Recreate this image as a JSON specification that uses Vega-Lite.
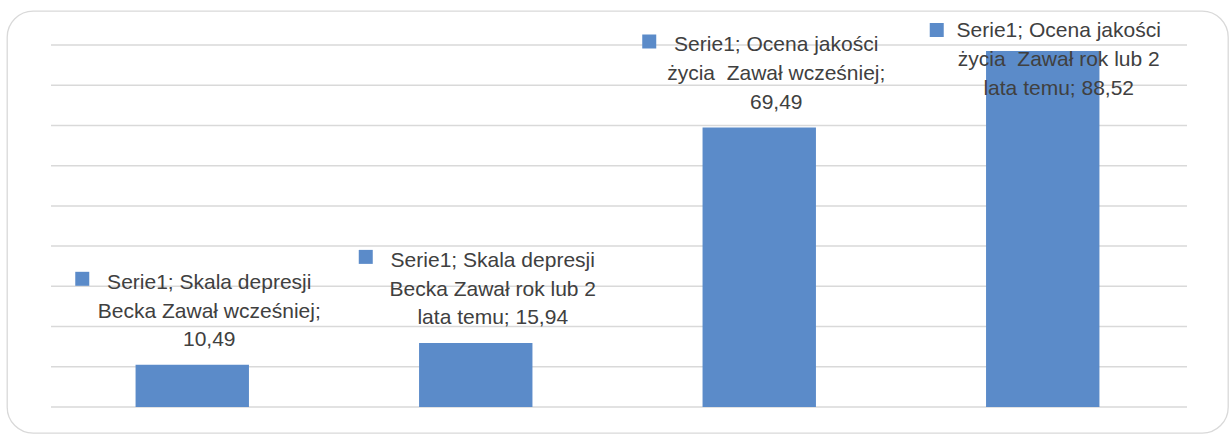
{
  "$schema": "https://vega.github.io/schema/vega-lite/v6.json",
  "width": 1221,
  "height": 422,
  "autosize": {"type": "none"},
  "padding": {"left": 7, "top": 11, "right": 1, "bottom": 1},
  "background": "white",
  "config": {
    "view": {"stroke": "#d9d9d9", "strokeWidth": 1.3, "cornerRadius": 26},
    "font": "Liberation Sans"
  },
  "datasets": {
    "bars": [
      {"cat": "Skala depresji Becka Zawał wcześniej", "value": 10.49, "label": ["Serie1; Skala depresji", "Becka Zawał wcześniej;", "10,49"]},
      {"cat": "Skala depresji Becka Zawał rok lub 2 lata temu", "value": 15.94, "label": ["Serie1; Skala depresji", "Becka Zawał rok lub 2", "lata temu; 15,94"]},
      {"cat": "Ocena jakości życia  Zawał wcześniej", "value": 69.49, "label": ["Serie1; Ocena jakości", "życia\u00a0 Zawał wcześniej;", "69,49"]},
      {"cat": "Ocena jakości życia  Zawał rok lub 2 lata temu", "value": 88.52, "label": ["Serie1; Ocena jakości", "życia\u00a0 Zawał rok lub 2", "lata temu; 88,52"]}
    ],
    "grid": [{"g": 0}, {"g": 10}, {"g": 20}, {"g": 30}, {"g": 40}, {"g": 50}, {"g": 60}, {"g": 70}, {"g": 80}, {"g": 90}]
  },
  "layer": [
    {
      "data": {"name": "grid"},
      "mark": {"type": "rule", "color": "#d9d9d9", "strokeWidth": 1.5},
      "encoding": {
        "x": {"datum": 0, "type": "quantitative", "scale": {"domain": [-0.03873, 1.03609], "nice": false, "zero": false}, "axis": null},
        "x2": {"datum": 1},
        "y": {"field": "g", "type": "quantitative", "scale": {"domain": [-6.464, 98.453], "nice": false, "zero": false}, "axis": null}
      }
    },
    {
      "data": {"name": "bars"},
      "encoding": {
        "x": {"field": "cat", "type": "nominal", "sort": null, "axis": null,
              "scale": {"paddingInner": 0.6, "paddingOuter": 0.4535, "align": 0.5}}
      },
      "layer": [
        {
          "mark": {"type": "bar", "color": "#5B8BC9"},
          "encoding": {
            "y": {"field": "value", "type": "quantitative", "scale": {"domain": [-6.464, 98.453], "nice": false, "zero": false}, "axis": null},
            "y2": {"datum": 0}
          }
        },
        {
          "transform": [{"filter": "datum.value < 80"}],
          "mark": {"type": "point", "shape": "square", "filled": true, "opacity": 1, "size": 196, "color": "#5B8BC9", "xOffset": -110, "yOffset": -86},
          "encoding": {"y": {"field": "value", "type": "quantitative"}}
        },
        {
          "transform": [{"filter": "datum.value < 80"}],
          "mark": {"type": "text", "align": "center", "baseline": "alphabetic", "dx": 17, "dy": -76, "fontSize": 21, "lineHeight": 28.8, "color": "#404040"},
          "encoding": {"y": {"field": "value", "type": "quantitative"}, "text": {"field": "label"}}
        },
        {
          "transform": [{"filter": "datum.value >= 80"}],
          "mark": {"type": "point", "shape": "square", "filled": true, "opacity": 1, "size": 196, "color": "#5B8BC9", "xOffset": -106, "yOffset": -15},
          "encoding": {"y": {"datum": 90, "type": "quantitative"}}
        },
        {
          "transform": [{"filter": "datum.value >= 80"}],
          "mark": {"type": "text", "align": "center", "baseline": "alphabetic", "dx": 16, "dy": -8, "fontSize": 21, "lineHeight": 28.8, "color": "#404040"},
          "encoding": {"y": {"datum": 90, "type": "quantitative"}, "text": {"field": "label"}}
        }
      ]
    }
  ],
  "resolve": {"scale": {"x": "independent"}}
}
